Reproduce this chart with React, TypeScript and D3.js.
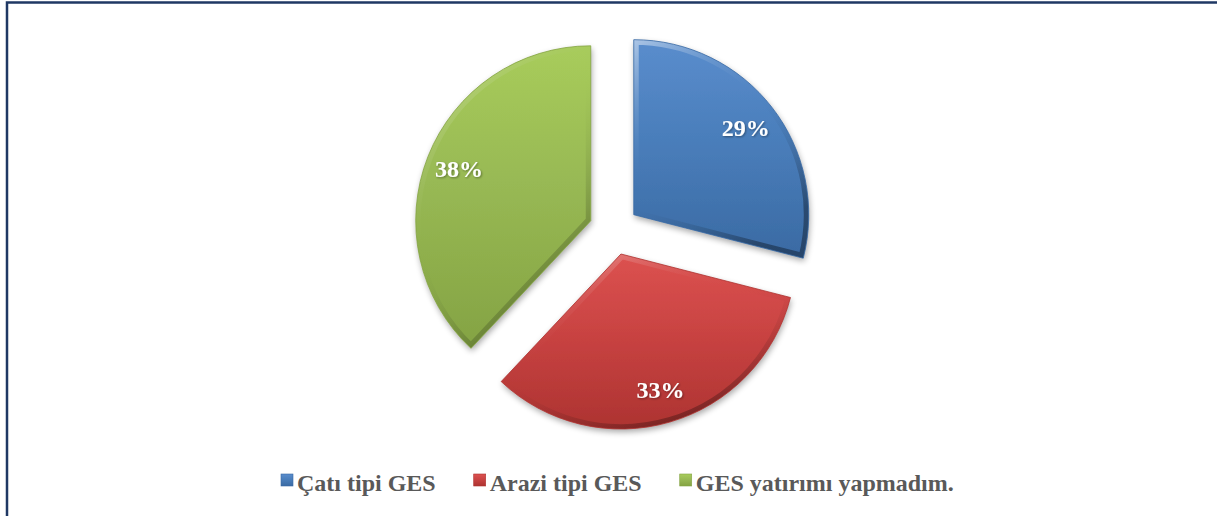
import React, { useRef, useLayoutEffect, useState } from 'react';
import * as d3 from 'd3';

// chart values
const categories = ['Çatı tipi GES', 'Arazi tipi GES', 'GES yatırımı yapmadım.'];
const values = [29, 33, 38];
const baseColors = ['#4a7ebb', '#c94342', '#98b954'];
const lightColors = ['#5a8dcd', '#dc5250', '#a8cc5b'];
const darkColors = ['#3a6aa3', '#ad3331', '#84a343'];

const width = 1217;
const height = 516;

const App = () => {
  const legendRef = useRef<SVGGElement>(null);
  const [textWidths, setTextWidths] = useState<number[]>([138, 152, 258]);

  // measure legend texts so the items sit next to each other
  useLayoutEffect(() => {
    if (!legendRef.current) return;
    const nodes = legendRef.current.querySelectorAll('text');
    const w: number[] = [];
    nodes.forEach(n => w.push((n as SVGTextElement).getComputedTextLength()));
    if (w.length === 3 && w.some((v, i) => Math.abs(v - textWidths[i]) > 0.5)) setTextWidths(w);
  }, []);

  const cx = 614;
  const cy = 230;
  const radius = 175;
  const explode = 25;

  const pie = d3.pie<number>().sort(null).value(d => d);
  const arcs = pie(values);
  const arc = d3.arc<d3.PieArcDatum<number>>().innerRadius(0).outerRadius(radius);
  const labelArc = d3.arc<d3.PieArcDatum<number>>().innerRadius(radius * 0.81).outerRadius(radius * 0.81);

  const legendX0 = 281;
  const legendBaseline = 491;
  const markerSize = 12;
  const markerGap = 4;
  const itemGap = 38;
  const legendPos: number[] = [];
  let xx = legendX0;
  textWidths.forEach(w => {
    legendPos.push(xx);
    xx += markerSize + markerGap + w + itemGap;
  });

  return (
    <svg width={width} height={height} style={{ position: 'absolute', left: 0, top: 0 }}>
      <defs>
        <filter id="shadow" x="-20%" y="-20%" width="140%" height="140%">
          <feGaussianBlur in="SourceAlpha" stdDeviation="3" />
          <feOffset dx="1" dy="3" result="blur" />
          <feComponentTransfer>
            <feFuncA type="linear" slope="0.35" />
          </feComponentTransfer>
          <feMerge>
            <feMergeNode />
            <feMergeNode in="SourceGraphic" />
          </feMerge>
        </filter>
        <filter id="txtShadow" x="-20%" y="-20%" width="140%" height="140%">
          <feGaussianBlur in="SourceAlpha" stdDeviation="1" />
          <feOffset dx="1" dy="1" />
          <feComponentTransfer>
            <feFuncA type="linear" slope="0.4" />
          </feComponentTransfer>
          <feMerge>
            <feMergeNode />
            <feMergeNode in="SourceGraphic" />
          </feMerge>
        </filter>
        {baseColors.map((c, i) => (
          <linearGradient key={'g' + i} id={'fill' + i} x1="0" y1="0" x2="0" y2="1">
            <stop offset="0%" stopColor={lightColors[i]} />
            <stop offset="45%" stopColor={c} />
            <stop offset="100%" stopColor={darkColors[i]} />
          </linearGradient>
        ))}
        {baseColors.map((c, i) => (
          <linearGradient key={'b' + i} id={'bevel' + i} x1="0" y1="0" x2="0.6" y2="1">
            <stop offset="0%" stopColor="#ffffff" stopOpacity={0.5} />
            <stop offset="50%" stopColor={c} stopOpacity={0} />
            <stop offset="100%" stopColor="#000000" stopOpacity={0.35} />
          </linearGradient>
        ))}
        {arcs.map((a, i) => (
          <clipPath key={'c' + i} id={'clip' + i}>
            <path d={arc(a) || ''} />
          </clipPath>
        ))}
      </defs>

      <rect x={7} y={2.5} width={1222} height={530} fill="#ffffff" stroke="#1f3864" strokeWidth={2.5} />

      <g transform={`translate(${cx},${cy})`}>
        {arcs.map((a, i) => {
          const mid = (a.startAngle + a.endAngle) / 2;
          const dx = Math.sin(mid) * explode;
          const dy = -Math.cos(mid) * explode;
          const [lx, ly] = labelArc.centroid(a);
          return (
            <g key={i} transform={`translate(${dx},${dy})`}>
              <g filter="url(#shadow)">
                <path d={arc(a) || ''} fill={`url(#fill${i})`} />
              </g>
              <path
                d={arc(a) || ''}
                fill="none"
                stroke={`url(#bevel${i})`}
                strokeWidth={10}
                strokeLinejoin="round"
                clipPath={`url(#clip${i})`}
              />
              <path d={arc(a) || ''} fill="none" stroke={darkColors[i]} strokeWidth={0.8} />
              <text
                x={lx}
                y={ly}
                textAnchor="middle"
                dominantBaseline="central"
                fill="#ffffff"
                fontFamily="'Liberation Serif', 'Times New Roman', serif"
                fontWeight="bold"
                fontSize={24}
                filter="url(#txtShadow)"
              >
                {Math.round(values[i])}%
              </text>
            </g>
          );
        })}
      </g>

      <g ref={legendRef}>
        {categories.map((c, i) => (
          <g key={c}>
            <rect
              x={legendPos[i]}
              y={legendBaseline - 17}
              width={markerSize}
              height={markerSize}
              fill={`url(#fill${i})`}
              stroke={darkColors[i]}
              strokeWidth={0.6}
            />
            <text
              x={legendPos[i] + markerSize + markerGap}
              y={legendBaseline}
              fill="#595959"
              fontFamily="'Liberation Serif', 'Times New Roman', serif"
              fontWeight="bold"
              fontSize={24}
            >
              {c}
            </text>
          </g>
        ))}
      </g>
    </svg>
  );
};

export default App;
